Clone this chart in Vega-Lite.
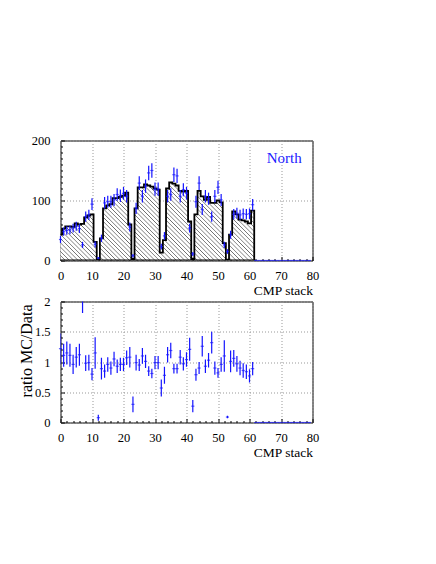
{
  "$schema": "https://vega.github.io/schema/vega-lite/v6.json",
  "autosize": {"type": "none"},
  "padding": {"left": 60.5, "top": 140.5, "right": 375.5, "bottom": 423.5},
  "background": "white",
  "bounds": "flush",
  "spacing": 41,
  "config": {
    "font": "Liberation Serif",
    "view": {"stroke": "#000", "strokeWidth": 1},
    "axis": {"domain": false, "labelFont": "Liberation Serif", "labelFontSize": 12.5, "labelColor": "#000", "titleFont": "Liberation Serif", "titleFontWeight": "normal", "titleColor": "#000", "tickColor": "#000", "tickWidth": 1, "gridColor": "#999", "gridDash": [1, 2], "gridWidth": 1, "labelFlush": false, "labelOverlap": false}
  },
  "datasets": {
    "mc": [
      {"edge": -0.5, "mc": 43}, {"edge": 0.5, "mc": 53}, {"edge": 1.5, "mc": 57}, {"edge": 2.5, "mc": 57}, {"edge": 3.5, "mc": 56},
      {"edge": 4.5, "mc": 62}, {"edge": 5.5, "mc": 60}, {"edge": 6.5, "mc": 61}, {"edge": 7.5, "mc": 72}, {"edge": 8.5, "mc": 75},
      {"edge": 9.5, "mc": 77}, {"edge": 10.5, "mc": 31}, {"edge": 11.5, "mc": 1.5}, {"edge": 12.5, "mc": 37}, {"edge": 13.5, "mc": 87},
      {"edge": 14.5, "mc": 92}, {"edge": 15.5, "mc": 94}, {"edge": 16.5, "mc": 104}, {"edge": 17.5, "mc": 104}, {"edge": 18.5, "mc": 106},
      {"edge": 19.5, "mc": 108}, {"edge": 20.5, "mc": 113}, {"edge": 21.5, "mc": 60}, {"edge": 22.5, "mc": 2.5}, {"edge": 23.5, "mc": 87},
      {"edge": 24.5, "mc": 122}, {"edge": 25.5, "mc": 122}, {"edge": 26.5, "mc": 127}, {"edge": 27.5, "mc": 125}, {"edge": 28.5, "mc": 123},
      {"edge": 29.5, "mc": 120}, {"edge": 30.5, "mc": 118}, {"edge": 31.5, "mc": 13}, {"edge": 32.5, "mc": 34}, {"edge": 33.5, "mc": 120},
      {"edge": 34.5, "mc": 130}, {"edge": 35.5, "mc": 128}, {"edge": 36.5, "mc": 125}, {"edge": 37.5, "mc": 116}, {"edge": 38.5, "mc": 115},
      {"edge": 39.5, "mc": 116}, {"edge": 40.5, "mc": 65}, {"edge": 41.5, "mc": 3}, {"edge": 42.5, "mc": 77}, {"edge": 43.5, "mc": 116},
      {"edge": 44.5, "mc": 107}, {"edge": 45.5, "mc": 101}, {"edge": 46.5, "mc": 106}, {"edge": 47.5, "mc": 96}, {"edge": 48.5, "mc": 96},
      {"edge": 49.5, "mc": 100}, {"edge": 50.5, "mc": 97}, {"edge": 51.5, "mc": 29}, {"edge": 52.5, "mc": 1.5}, {"edge": 53.5, "mc": 43},
      {"edge": 54.5, "mc": 82}, {"edge": 55.5, "mc": 77}, {"edge": 56.5, "mc": 68}, {"edge": 57.5, "mc": 67}, {"edge": 58.5, "mc": 65},
      {"edge": 59.5, "mc": 62}, {"edge": 60.5, "mc": 83}, {"edge": 61.5, "mc": 83}
    ],
    "obs": [
      {"stack": 0, "data": 35, "err": 5.9, "ratio": 1.22, "rerr": 0.25},
      {"stack": 1, "data": 48, "err": 6.9, "ratio": 1.11, "rerr": 0.19},
      {"stack": 2, "data": 50, "err": 7.1, "ratio": 1.15, "rerr": 0.19},
      {"stack": 3, "data": 51, "err": 7.1, "ratio": 1.11, "rerr": 0.19},
      {"stack": 4, "data": 54, "err": 7.3, "ratio": 0.96, "rerr": 0.16},
      {"stack": 5, "data": 57, "err": 7.5, "ratio": 1.08, "rerr": 0.17},
      {"stack": 6, "data": 53, "err": 7.3, "ratio": 1.12, "rerr": 0.18},
      {"stack": 7, "data": 26, "err": 5.1, "ratio": 2.25, "rerr": 0.44},
      {"stack": 8, "data": 73, "err": 8.5, "ratio": 0.98, "rerr": 0.13},
      {"stack": 9, "data": 76, "err": 8.7, "ratio": 0.99, "rerr": 0.13},
      {"stack": 10, "data": 94, "err": 9.7, "ratio": 0.80, "rerr": 0.10},
      {"stack": 11, "data": 27, "err": 5.2, "ratio": 1.15, "rerr": 0.26},
      {"stack": 12, "data": 4, "err": 2.0, "ratio": 0.08, "rerr": 0.05},
      {"stack": 13, "data": 37, "err": 6.1, "ratio": 0.89, "rerr": 0.18},
      {"stack": 14, "data": 96, "err": 9.8, "ratio": 0.85, "rerr": 0.11},
      {"stack": 15, "data": 98, "err": 9.9, "ratio": 0.96, "rerr": 0.12},
      {"stack": 16, "data": 98, "err": 9.9, "ratio": 0.90, "rerr": 0.11},
      {"stack": 17, "data": 101, "err": 10.0, "ratio": 1.05, "rerr": 0.12},
      {"stack": 18, "data": 110, "err": 10.5, "ratio": 0.93, "rerr": 0.11},
      {"stack": 19, "data": 108, "err": 10.4, "ratio": 0.96, "rerr": 0.11},
      {"stack": 20, "data": 112, "err": 10.6, "ratio": 0.96, "rerr": 0.11},
      {"stack": 21, "data": 107, "err": 10.3, "ratio": 1.07, "rerr": 0.12},
      {"stack": 22, "data": 56, "err": 7.5, "ratio": 1.08, "rerr": 0.17},
      {"stack": 23, "data": 8, "err": 2.8, "ratio": 0.30, "rerr": 0.13},
      {"stack": 24, "data": 87, "err": 9.3, "ratio": 0.99, "rerr": 0.13},
      {"stack": 25, "data": 129, "err": 11.4, "ratio": 0.95, "rerr": 0.10},
      {"stack": 26, "data": 107, "err": 10.3, "ratio": 1.10, "rerr": 0.13},
      {"stack": 27, "data": 124, "err": 11.1, "ratio": 1.01, "rerr": 0.11},
      {"stack": 28, "data": 146, "err": 12.1, "ratio": 0.85, "rerr": 0.08},
      {"stack": 29, "data": 150, "err": 12.2, "ratio": 0.81, "rerr": 0.08},
      {"stack": 30, "data": 119, "err": 10.9, "ratio": 0.99, "rerr": 0.11},
      {"stack": 31, "data": 119, "err": 10.9, "ratio": 0.99, "rerr": 0.11},
      {"stack": 32, "data": 23, "err": 4.8, "ratio": 0.57, "rerr": 0.14},
      {"stack": 33, "data": 41, "err": 6.4, "ratio": 0.78, "rerr": 0.14},
      {"stack": 34, "data": 107, "err": 10.3, "ratio": 1.12, "rerr": 0.13},
      {"stack": 35, "data": 110, "err": 10.5, "ratio": 1.19, "rerr": 0.13},
      {"stack": 36, "data": 143, "err": 12.0, "ratio": 0.89, "rerr": 0.08},
      {"stack": 37, "data": 141, "err": 11.9, "ratio": 0.89, "rerr": 0.08},
      {"stack": 38, "data": 107, "err": 10.3, "ratio": 1.08, "rerr": 0.12},
      {"stack": 39, "data": 118, "err": 10.9, "ratio": 0.97, "rerr": 0.11},
      {"stack": 40, "data": 112, "err": 10.6, "ratio": 1.04, "rerr": 0.12},
      {"stack": 41, "data": 54, "err": 7.3, "ratio": 1.21, "rerr": 0.19},
      {"stack": 42, "data": 11, "err": 3.3, "ratio": 0.27, "rerr": 0.10},
      {"stack": 43, "data": 98, "err": 9.9, "ratio": 0.79, "rerr": 0.10},
      {"stack": 44, "data": 129, "err": 11.4, "ratio": 0.90, "rerr": 0.10},
      {"stack": 45, "data": 85, "err": 9.2, "ratio": 1.26, "rerr": 0.17},
      {"stack": 46, "data": 107, "err": 10.3, "ratio": 0.93, "rerr": 0.11},
      {"stack": 47, "data": 103, "err": 10.1, "ratio": 1.03, "rerr": 0.12},
      {"stack": 48, "data": 73, "err": 8.5, "ratio": 1.32, "rerr": 0.18},
      {"stack": 49, "data": 107, "err": 10.3, "ratio": 0.90, "rerr": 0.11},
      {"stack": 50, "data": 122, "err": 11.0, "ratio": 0.82, "rerr": 0.08},
      {"stack": 51, "data": 101, "err": 10.0, "ratio": 0.96, "rerr": 0.12},
      {"stack": 52, "data": 26, "err": 5.1, "ratio": 1.10, "rerr": 0.26},
      {"stack": 53, "data": 15, "err": 3.9, "ratio": 0.09, "rerr": 0.02},
      {"stack": 54, "data": 43, "err": 6.6, "ratio": 1.01, "rerr": 0.18},
      {"stack": 55, "data": 77, "err": 8.8, "ratio": 1.06, "rerr": 0.14},
      {"stack": 56, "data": 79, "err": 8.9, "ratio": 0.97, "rerr": 0.13},
      {"stack": 57, "data": 76, "err": 8.7, "ratio": 0.90, "rerr": 0.12},
      {"stack": 58, "data": 78, "err": 8.8, "ratio": 0.86, "rerr": 0.12},
      {"stack": 59, "data": 77, "err": 8.8, "ratio": 0.84, "rerr": 0.12},
      {"stack": 60, "data": 78, "err": 8.8, "ratio": 0.77, "rerr": 0.11},
      {"stack": 61, "data": 93, "err": 9.6, "ratio": 0.89, "rerr": 0.11},
      {"stack": 62, "data": 0, "err": 0, "ratio": 0, "rerr": 0},
      {"stack": 63, "data": 0, "err": 0, "ratio": 0, "rerr": 0},
      {"stack": 64, "data": 0, "err": 0, "ratio": 0, "rerr": 0},
      {"stack": 65, "data": 0, "err": 0, "ratio": 0, "rerr": 0},
      {"stack": 66, "data": 0, "err": 0, "ratio": 0, "rerr": 0},
      {"stack": 67, "data": 0, "err": 0, "ratio": 0, "rerr": 0},
      {"stack": 68, "data": 0, "err": 0, "ratio": 0, "rerr": 0},
      {"stack": 69, "data": 0, "err": 0, "ratio": 0, "rerr": 0},
      {"stack": 70, "data": 0, "err": 0, "ratio": 0, "rerr": 0},
      {"stack": 71, "data": 0, "err": 0, "ratio": 0, "rerr": 0},
      {"stack": 72, "data": 0, "err": 0, "ratio": 0, "rerr": 0},
      {"stack": 73, "data": 0, "err": 0, "ratio": 0, "rerr": 0},
      {"stack": 74, "data": 0, "err": 0, "ratio": 0, "rerr": 0},
      {"stack": 75, "data": 0, "err": 0, "ratio": 0, "rerr": 0},
      {"stack": 76, "data": 0, "err": 0, "ratio": 0, "rerr": 0},
      {"stack": 77, "data": 0, "err": 0, "ratio": 0, "rerr": 0},
      {"stack": 78, "data": 0, "err": 0, "ratio": 0, "rerr": 0},
      {"stack": 79, "data": 0, "err": 0, "ratio": 0, "rerr": 0}
    ]
  },
  "vconcat": [
    {
      "width": 252,
      "height": 120,
      "layer": [
        {
          "data": {"name": "mc"},
          "mark": {
            "type": "area", "interpolate": "step-after", "clip": true, "stroke": "#000", "strokeWidth": 1.8,
            "fill": {
              "gradient": "linear", "x1": 0, "y1": 1, "x2": 1.207, "y2": 0.518,
              "stops": [
                {"offset": 0.0047, "color": "#fff"}, {"offset": 0.0078, "color": "#666"}, {"offset": 0.0109, "color": "#fff"},
                {"offset": 0.0203, "color": "#fff"}, {"offset": 0.0234, "color": "#666"}, {"offset": 0.0266, "color": "#fff"},
                {"offset": 0.0359, "color": "#fff"}, {"offset": 0.0391, "color": "#666"}, {"offset": 0.0422, "color": "#fff"},
                {"offset": 0.0516, "color": "#fff"}, {"offset": 0.0547, "color": "#666"}, {"offset": 0.0578, "color": "#fff"},
                {"offset": 0.0672, "color": "#fff"}, {"offset": 0.0703, "color": "#666"}, {"offset": 0.0734, "color": "#fff"},
                {"offset": 0.0828, "color": "#fff"}, {"offset": 0.0859, "color": "#666"}, {"offset": 0.0891, "color": "#fff"},
                {"offset": 0.0984, "color": "#fff"}, {"offset": 0.1016, "color": "#666"}, {"offset": 0.1047, "color": "#fff"},
                {"offset": 0.1141, "color": "#fff"}, {"offset": 0.1172, "color": "#666"}, {"offset": 0.1203, "color": "#fff"},
                {"offset": 0.1297, "color": "#fff"}, {"offset": 0.1328, "color": "#666"}, {"offset": 0.1359, "color": "#fff"},
                {"offset": 0.1453, "color": "#fff"}, {"offset": 0.1484, "color": "#666"}, {"offset": 0.1516, "color": "#fff"},
                {"offset": 0.1609, "color": "#fff"}, {"offset": 0.1641, "color": "#666"}, {"offset": 0.1672, "color": "#fff"},
                {"offset": 0.1766, "color": "#fff"}, {"offset": 0.1797, "color": "#666"}, {"offset": 0.1828, "color": "#fff"},
                {"offset": 0.1922, "color": "#fff"}, {"offset": 0.1953, "color": "#666"}, {"offset": 0.1984, "color": "#fff"},
                {"offset": 0.2078, "color": "#fff"}, {"offset": 0.2109, "color": "#666"}, {"offset": 0.2141, "color": "#fff"},
                {"offset": 0.2234, "color": "#fff"}, {"offset": 0.2266, "color": "#666"}, {"offset": 0.2297, "color": "#fff"},
                {"offset": 0.2391, "color": "#fff"}, {"offset": 0.2422, "color": "#666"}, {"offset": 0.2453, "color": "#fff"},
                {"offset": 0.2547, "color": "#fff"}, {"offset": 0.2578, "color": "#666"}, {"offset": 0.2609, "color": "#fff"},
                {"offset": 0.2703, "color": "#fff"}, {"offset": 0.2734, "color": "#666"}, {"offset": 0.2766, "color": "#fff"},
                {"offset": 0.2859, "color": "#fff"}, {"offset": 0.2891, "color": "#666"}, {"offset": 0.2922, "color": "#fff"},
                {"offset": 0.3016, "color": "#fff"}, {"offset": 0.3047, "color": "#666"}, {"offset": 0.3078, "color": "#fff"},
                {"offset": 0.3172, "color": "#fff"}, {"offset": 0.3203, "color": "#666"}, {"offset": 0.3234, "color": "#fff"},
                {"offset": 0.3328, "color": "#fff"}, {"offset": 0.3359, "color": "#666"}, {"offset": 0.3391, "color": "#fff"},
                {"offset": 0.3484, "color": "#fff"}, {"offset": 0.3516, "color": "#666"}, {"offset": 0.3547, "color": "#fff"},
                {"offset": 0.3641, "color": "#fff"}, {"offset": 0.3672, "color": "#666"}, {"offset": 0.3703, "color": "#fff"},
                {"offset": 0.3797, "color": "#fff"}, {"offset": 0.3828, "color": "#666"}, {"offset": 0.3859, "color": "#fff"},
                {"offset": 0.3953, "color": "#fff"}, {"offset": 0.3984, "color": "#666"}, {"offset": 0.4016, "color": "#fff"},
                {"offset": 0.4109, "color": "#fff"}, {"offset": 0.4141, "color": "#666"}, {"offset": 0.4172, "color": "#fff"},
                {"offset": 0.4266, "color": "#fff"}, {"offset": 0.4297, "color": "#666"}, {"offset": 0.4328, "color": "#fff"},
                {"offset": 0.4422, "color": "#fff"}, {"offset": 0.4453, "color": "#666"}, {"offset": 0.4484, "color": "#fff"},
                {"offset": 0.4578, "color": "#fff"}, {"offset": 0.4609, "color": "#666"}, {"offset": 0.4641, "color": "#fff"},
                {"offset": 0.4734, "color": "#fff"}, {"offset": 0.4766, "color": "#666"}, {"offset": 0.4797, "color": "#fff"},
                {"offset": 0.4891, "color": "#fff"}, {"offset": 0.4922, "color": "#666"}, {"offset": 0.4953, "color": "#fff"},
                {"offset": 0.5047, "color": "#fff"}, {"offset": 0.5078, "color": "#666"}, {"offset": 0.5109, "color": "#fff"},
                {"offset": 0.5203, "color": "#fff"}, {"offset": 0.5234, "color": "#666"}, {"offset": 0.5266, "color": "#fff"},
                {"offset": 0.5359, "color": "#fff"}, {"offset": 0.5391, "color": "#666"}, {"offset": 0.5422, "color": "#fff"},
                {"offset": 0.5516, "color": "#fff"}, {"offset": 0.5547, "color": "#666"}, {"offset": 0.5578, "color": "#fff"},
                {"offset": 0.5672, "color": "#fff"}, {"offset": 0.5703, "color": "#666"}, {"offset": 0.5734, "color": "#fff"},
                {"offset": 0.5828, "color": "#fff"}, {"offset": 0.5859, "color": "#666"}, {"offset": 0.5891, "color": "#fff"},
                {"offset": 0.5984, "color": "#fff"}, {"offset": 0.6016, "color": "#666"}, {"offset": 0.6047, "color": "#fff"},
                {"offset": 0.6141, "color": "#fff"}, {"offset": 0.6172, "color": "#666"}, {"offset": 0.6203, "color": "#fff"},
                {"offset": 0.6297, "color": "#fff"}, {"offset": 0.6328, "color": "#666"}, {"offset": 0.6359, "color": "#fff"},
                {"offset": 0.6453, "color": "#fff"}, {"offset": 0.6484, "color": "#666"}, {"offset": 0.6516, "color": "#fff"},
                {"offset": 0.6609, "color": "#fff"}, {"offset": 0.6641, "color": "#666"}, {"offset": 0.6672, "color": "#fff"},
                {"offset": 0.6766, "color": "#fff"}, {"offset": 0.6797, "color": "#666"}, {"offset": 0.6828, "color": "#fff"},
                {"offset": 0.6922, "color": "#fff"}, {"offset": 0.6953, "color": "#666"}, {"offset": 0.6984, "color": "#fff"},
                {"offset": 0.7078, "color": "#fff"}, {"offset": 0.7109, "color": "#666"}, {"offset": 0.7141, "color": "#fff"},
                {"offset": 0.7234, "color": "#fff"}, {"offset": 0.7266, "color": "#666"}, {"offset": 0.7297, "color": "#fff"},
                {"offset": 0.7391, "color": "#fff"}, {"offset": 0.7422, "color": "#666"}, {"offset": 0.7453, "color": "#fff"},
                {"offset": 0.7547, "color": "#fff"}, {"offset": 0.7578, "color": "#666"}, {"offset": 0.7609, "color": "#fff"},
                {"offset": 0.7703, "color": "#fff"}, {"offset": 0.7734, "color": "#666"}, {"offset": 0.7766, "color": "#fff"},
                {"offset": 0.7859, "color": "#fff"}, {"offset": 0.7891, "color": "#666"}, {"offset": 0.7922, "color": "#fff"},
                {"offset": 0.8016, "color": "#fff"}, {"offset": 0.8047, "color": "#666"}, {"offset": 0.8078, "color": "#fff"},
                {"offset": 0.8172, "color": "#fff"}, {"offset": 0.8203, "color": "#666"}, {"offset": 0.8234, "color": "#fff"},
                {"offset": 0.8328, "color": "#fff"}, {"offset": 0.8359, "color": "#666"}, {"offset": 0.8391, "color": "#fff"},
                {"offset": 0.8484, "color": "#fff"}, {"offset": 0.8516, "color": "#666"}, {"offset": 0.8547, "color": "#fff"},
                {"offset": 0.8641, "color": "#fff"}, {"offset": 0.8672, "color": "#666"}, {"offset": 0.8703, "color": "#fff"},
                {"offset": 0.8797, "color": "#fff"}, {"offset": 0.8828, "color": "#666"}, {"offset": 0.8859, "color": "#fff"},
                {"offset": 0.8953, "color": "#fff"}, {"offset": 0.8984, "color": "#666"}, {"offset": 0.9016, "color": "#fff"},
                {"offset": 0.9109, "color": "#fff"}, {"offset": 0.9141, "color": "#666"}, {"offset": 0.9172, "color": "#fff"},
                {"offset": 0.9266, "color": "#fff"}, {"offset": 0.9297, "color": "#666"}, {"offset": 0.9328, "color": "#fff"},
                {"offset": 0.9422, "color": "#fff"}, {"offset": 0.9453, "color": "#666"}, {"offset": 0.9484, "color": "#fff"},
                {"offset": 0.9578, "color": "#fff"}, {"offset": 0.9609, "color": "#666"}, {"offset": 0.9641, "color": "#fff"},
                {"offset": 0.9734, "color": "#fff"}, {"offset": 0.9766, "color": "#666"}, {"offset": 0.9797, "color": "#fff"},
                {"offset": 0.9891, "color": "#fff"}, {"offset": 0.9922, "color": "#666"}, {"offset": 0.9953, "color": "#fff"}
              ]
            }
          },
          "encoding": {
            "x": {"field": "edge", "type": "quantitative", "scale": {"domain": [0, 80], "nice": false, "zero": false}, "axis": null},
            "y": {"field": "mc", "type": "quantitative", "scale": {"domain": [0, 200], "nice": false}, "axis": null}
          }
        },
        {
          "data": {"name": "obs"},
          "mark": {"type": "errorbar", "color": "#1414ff", "thickness": 1.2},
          "encoding": {
            "x": {"field": "stack", "type": "quantitative", "axis": {"orient": "bottom", "values": [0, 10, 20, 30, 40, 50, 60, 70, 80], "tickSize": -4, "labelPadding": 12.5, "grid": true, "title": "CMP stack", "titleFontSize": 13.5, "titleAnchor": "end", "titleAlign": "right", "titleBaseline": "alphabetic", "titleY": 34}},
            "y": {"field": "data", "type": "quantitative", "axis": {"orient": "left", "values": [0, 100, 200], "tickSize": -4, "labelPadding": 14.5, "grid": true, "title": null}},
            "yError": {"field": "err"}
          }
        },
        {
          "data": {"name": "obs"},
          "mark": {"type": "tick", "orient": "horizontal", "size": 3.15, "thickness": 1.2, "color": "#1414ff"},
          "encoding": {
            "x": {"field": "stack", "type": "quantitative", "axis": {"orient": "bottom", "values": [2, 4, 6, 8, 12, 14, 16, 18, 22, 24, 26, 28, 32, 34, 36, 38, 42, 44, 46, 48, 52, 54, 56, 58, 62, 64, 66, 68, 72, 74, 76, 78], "tickSize": -2, "labels": false, "grid": false, "title": null}},
            "y": {"field": "data", "type": "quantitative", "axis": {"orient": "left", "values": [10, 20, 30, 40, 50, 60, 70, 80, 90, 110, 120, 130, 140, 150, 160, 170, 180, 190], "tickSize": -2, "labels": false, "grid": false, "title": null}}
          }
        },
        {
          "data": {"values": [{}]},
          "mark": {"type": "text", "font": "Liberation Serif", "fontSize": 15, "color": "#2020ff", "align": "center", "baseline": "middle"},
          "encoding": {
            "x": {"datum": 71, "type": "quantitative", "axis": null},
            "y": {"datum": 171, "type": "quantitative", "axis": null},
            "text": {"value": "North"}
          }
        }
      ],
      "resolve": {"axis": {"x": "independent", "y": "independent"}}
    },
    {
      "width": 252,
      "height": 121,
      "layer": [
        {
          "data": {"name": "obs"},
          "mark": {"type": "errorbar", "color": "#1414ff", "thickness": 1.2, "clip": true},
          "encoding": {
            "x": {"field": "stack", "type": "quantitative", "scale": {"domain": [0, 80], "nice": false, "zero": false}, "axis": {"orient": "bottom", "values": [0, 10, 20, 30, 40, 50, 60, 70, 80], "tickSize": -4, "labelPadding": 12.5, "grid": true, "title": "CMP stack", "titleFontSize": 13.5, "titleAnchor": "end", "titleAlign": "right", "titleBaseline": "alphabetic", "titleY": 34}},
            "y": {"field": "ratio", "type": "quantitative", "scale": {"domain": [0, 2], "nice": false}, "axis": {"orient": "left", "values": [0, 0.5, 1, 1.5, 2], "format": "~g", "tickSize": -4, "labelPadding": 14.5, "grid": true, "title": "ratio MC/Data", "titleFontSize": 16, "titleAnchor": "end", "titleAngle": 270, "titleAlign": "right", "titleBaseline": "alphabetic", "titleX": -29.5, "titleY": 2.5}},
            "yError": {"field": "rerr"}
          }
        },
        {
          "data": {"name": "obs"},
          "transform": [{"filter": "datum.ratio <= 2"}],
          "mark": {"type": "tick", "orient": "horizontal", "size": 3.15, "thickness": 1.2, "color": "#1414ff"},
          "encoding": {
            "x": {"field": "stack", "type": "quantitative", "axis": {"orient": "bottom", "values": [2, 4, 6, 8, 12, 14, 16, 18, 22, 24, 26, 28, 32, 34, 36, 38, 42, 44, 46, 48, 52, 54, 56, 58, 62, 64, 66, 68, 72, 74, 76, 78], "tickSize": -2, "labels": false, "grid": false, "title": null}},
            "y": {"field": "ratio", "type": "quantitative", "axis": {"orient": "left", "values": [0.1, 0.2, 0.3, 0.4, 0.6, 0.7, 0.8, 0.9, 1.1, 1.2, 1.3, 1.4, 1.6, 1.7, 1.8, 1.9], "tickSize": -2, "labels": false, "grid": false, "title": null}}
          }
        }
      ],
      "resolve": {"axis": {"x": "independent", "y": "independent"}}
    }
  ]
}
